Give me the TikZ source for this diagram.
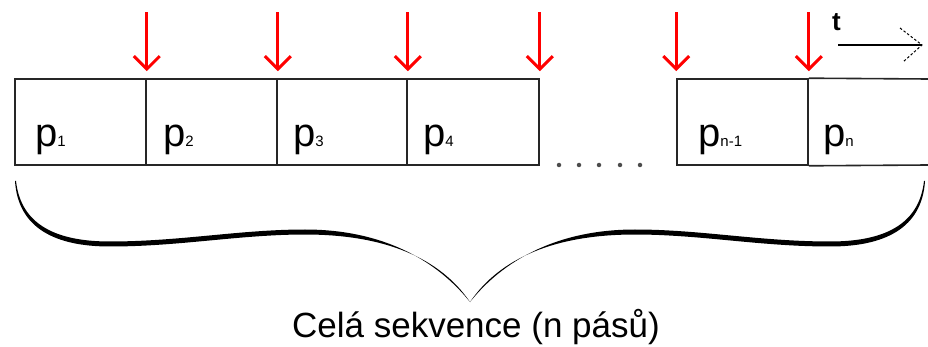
\documentclass[tikz,border=0pt]{standalone}
\usepackage{fontspec}
\setmainfont{Liberation Sans}
\usetikzlibrary{arrows.meta}
\newcommand{\subsz}{\fontsize{15}{16}\selectfont}
\begin{document}
\begin{tikzpicture}[x=1pt,y=-1pt,
  cell/.style={draw=black!85,line width=1.6pt,rectangle,inner sep=0pt,minimum height=86pt},
  plab/.style={anchor=base west,inner sep=0pt,font=\fontsize{40}{44}\selectfont},
  redarrow/.style={draw=red,line width=3pt,-{Straight Barb[length=13pt,width=26pt,line width=3pt]}},
  dotmark/.style={circle,fill=black!70,inner sep=0pt,minimum size=4.5pt}]
\useasboundingbox (0,0) rectangle (928,347);
% cells
\node[cell,minimum width=131pt] (c1) at (80.5,122) {};
\node[cell,minimum width=131pt] (c2) at (211.5,122) {};
\node[cell,minimum width=130pt] (c3) at (342,122) {};
\node[cell,minimum width=132pt] (c4) at (473,122) {};
\node[cell,minimum width=131pt] (c5) at (742.5,122) {};
\coordinate (c6ne) at (928,79);
\coordinate (c6se) at (928,165);
\draw[draw=black!85,line width=1.6pt] (c5.north east) -- (c6ne);
\draw[draw=black!85,line width=1.6pt] (c5.south east) -- (c6se);
% labels
\node[plab] (p1) at (35,147) {p\subsz 1};
\node[plab] (p2) at (163,147) {p\subsz 2};
\node[plab] (p3) at (293,147) {p\subsz 3};
\node[plab] (p4) at (423,147) {p\subsz 4};
\node[plab] (p5) at (698,147) {p\subsz n-1};
\node[plab] (p6) at (823,147) {p\subsz n};
% red arrows
\foreach \c/\a in {c1/north east,c2/north east,c3/north east,c4/north east,c5/north west,c5/north east}{
  \draw[redarrow] ([yshift=66pt]\c.\a) -- ([yshift=7pt]\c.\a);
}
% dots
\foreach \i/\x in {1/559,2/579,3/599,4/620,5/640}{
  \node[dotmark] (d\i) at (\x,165) {};
}
% time arrow
\node[inner sep=0pt,anchor=base west,font=\bfseries\fontsize{26}{28}\selectfont] (t) at (832,31) {t};
\coordinate (ts) at (838,45);
\coordinate (te) at (922,45);
\coordinate (tb1) at (900,28);
\coordinate (tb2) at (903,62);
\draw[line width=1.2pt] (ts) -- (te);
\draw[line width=1pt,dash pattern=on 2.5pt off 2pt] (tb1) -- (te) -- (tb2);
% brace
\fill[black] (15,181)
  .. controls (18,228) and (55,246.5) .. (110,246.5)
  .. controls (180,246.5) and (240,234.5) .. (305,234.5)
  .. controls (385,234.5) and (440,258) .. (470,302)
  .. controls (438,262) and (385,229.5) .. (305,229.5)
  .. controls (240,229.5) and (180,241.5) .. (110,241.5)
  .. controls (58,241.5) and (21,226) .. (16,181) -- cycle;
\fill[black] (925,181)
  .. controls (922,228) and (885,246.5) .. (830,246.5)
  .. controls (760,246.5) and (700,234.5) .. (635,234.5)
  .. controls (555,234.5) and (500,258) .. (470,302)
  .. controls (502,262) and (555,229.5) .. (635,229.5)
  .. controls (700,229.5) and (760,241.5) .. (830,241.5)
  .. controls (882,241.5) and (919,226) .. (924,181) -- cycle;
\node[inner sep=0pt,anchor=base,font=\fontsize{35}{40}\selectfont] (cap) at (476,337) {Celá sekvence (n pásů)};
\end{tikzpicture}
\end{document}
